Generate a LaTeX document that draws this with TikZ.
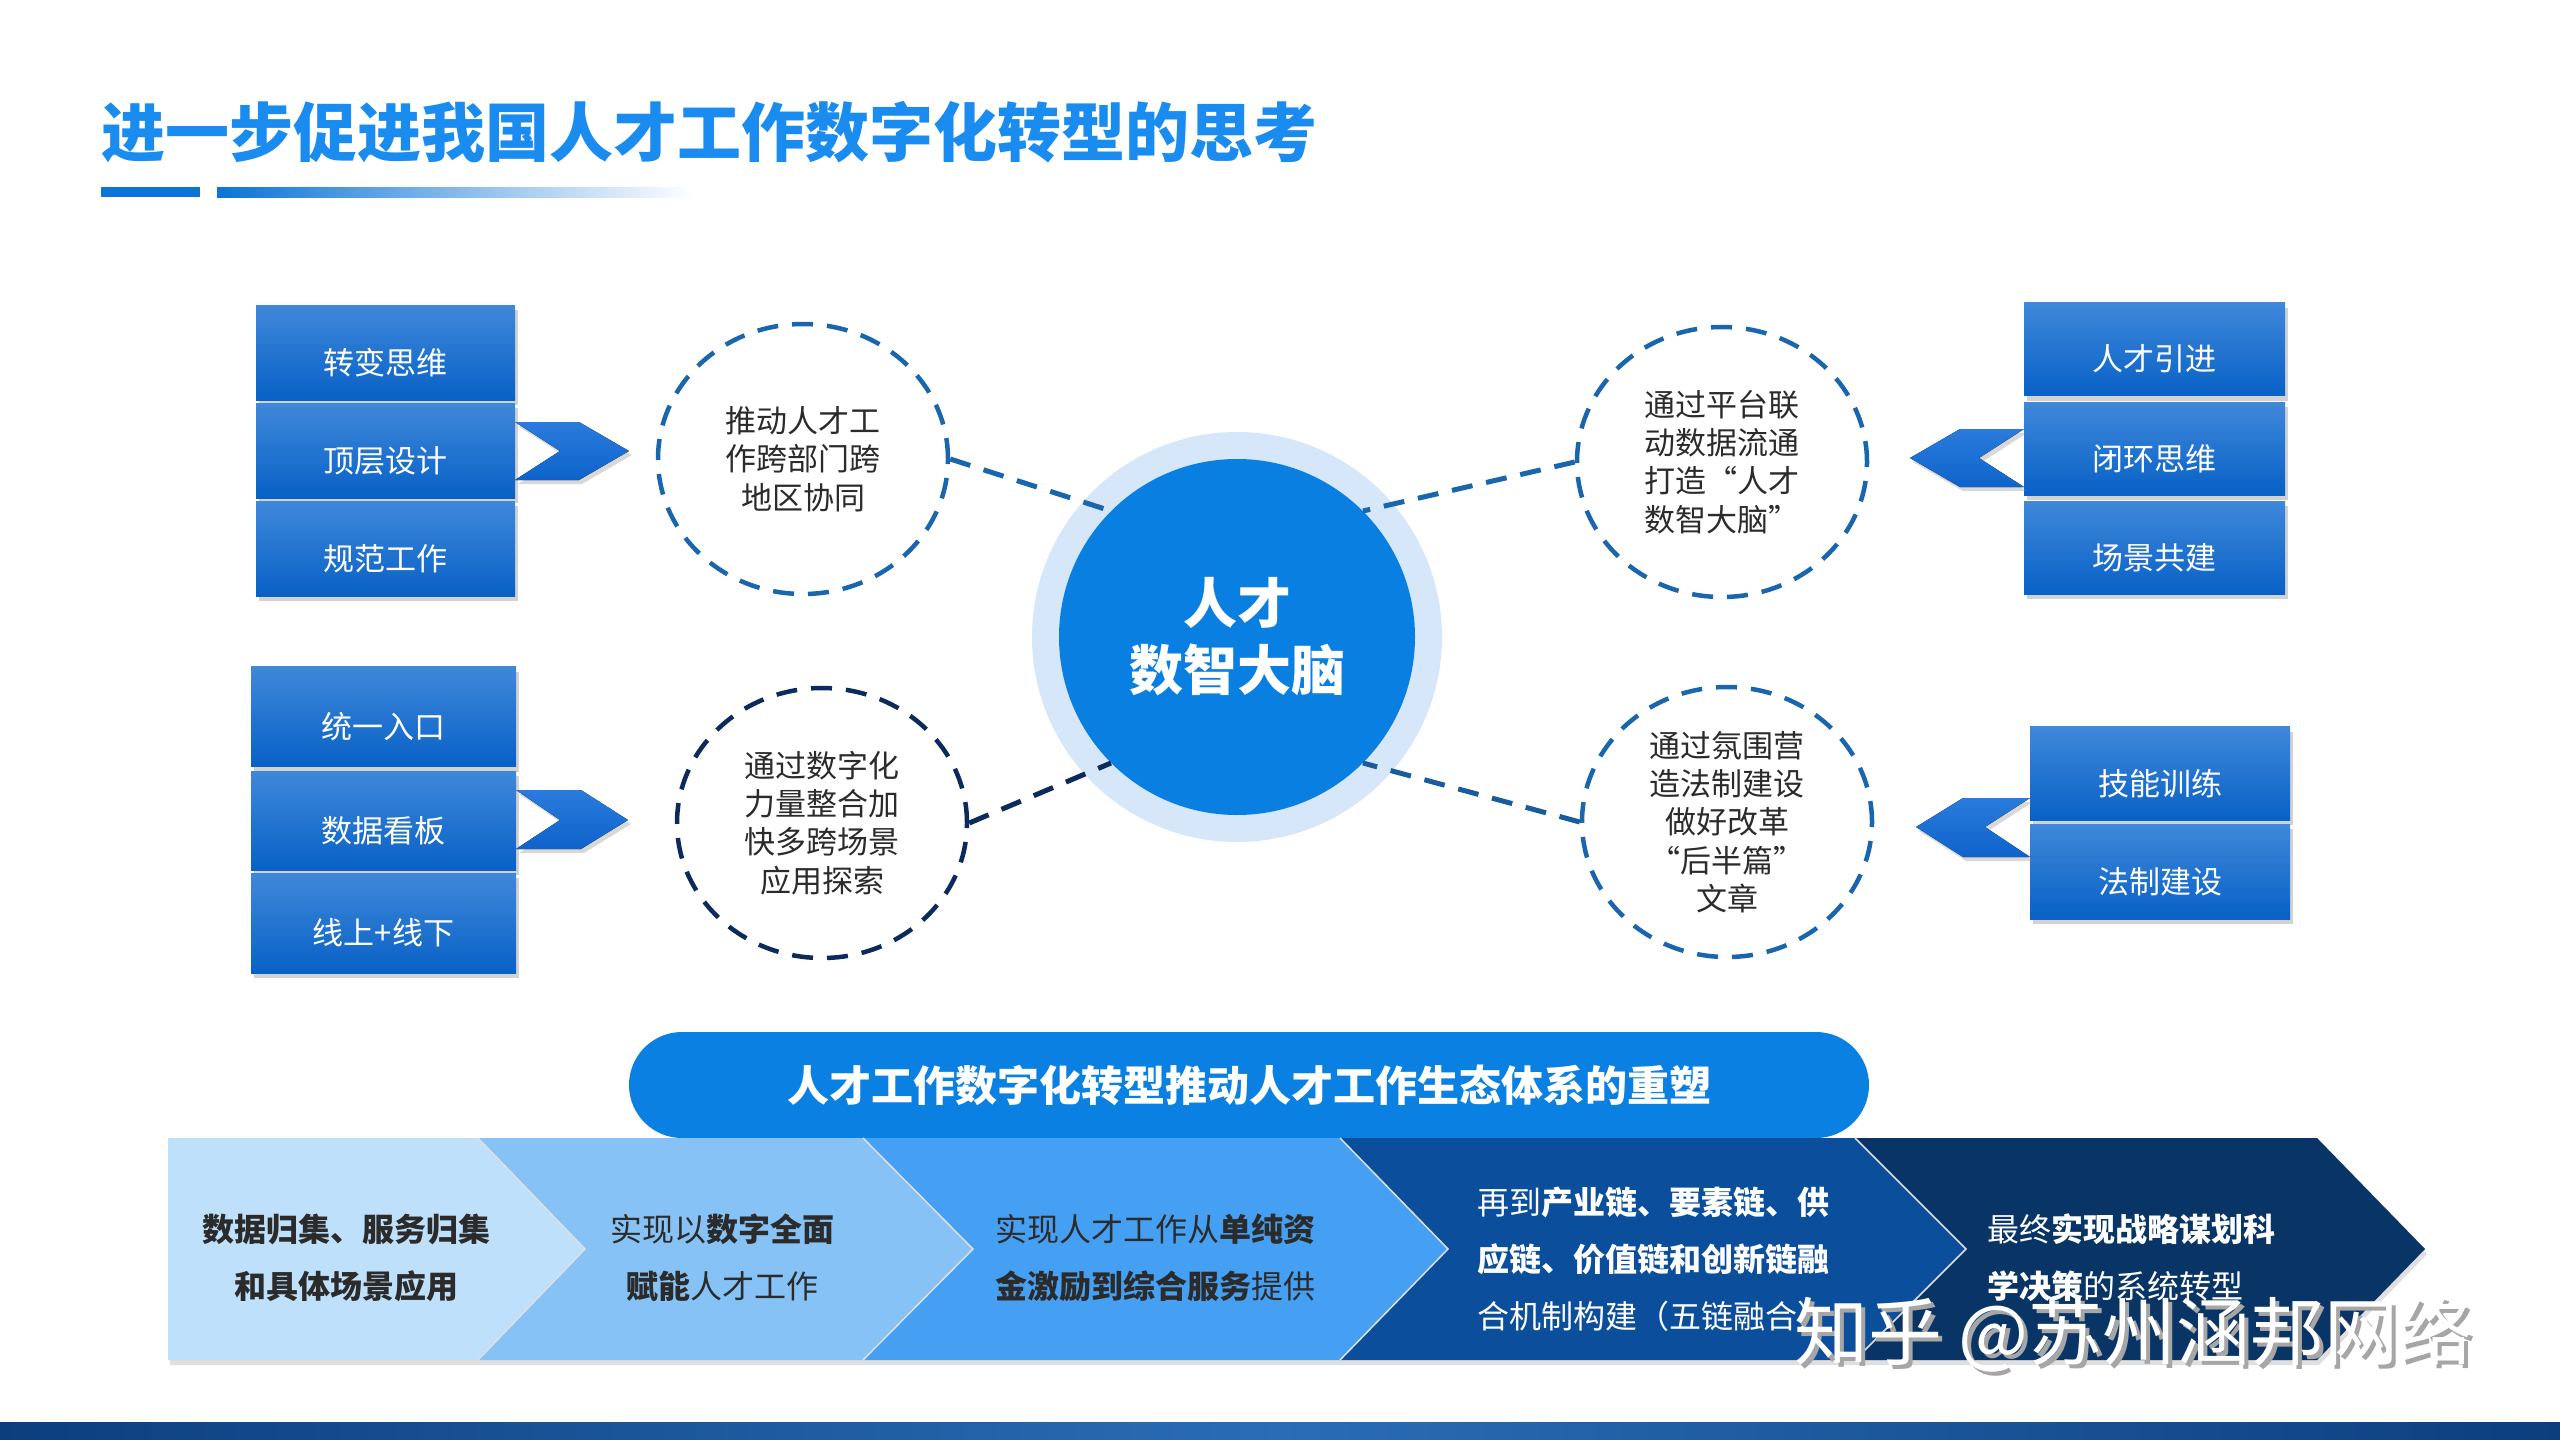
\documentclass[tikz,border=0pt]{standalone}
\usepackage{fontspec}
\setmainfont{Noto Sans CJK SC}
\usetikzlibrary{shapes.geometric,shadows}
\definecolor{titleblue}{HTML}{1A8CF0}
\definecolor{barblue}{HTML}{0B74D6}
\definecolor{boxtop}{HTML}{3F88DA}
\definecolor{boxbot}{HTML}{0861C6}
\definecolor{chevtop}{HTML}{2A7BDC}
\definecolor{chevbot}{HTML}{0E63CB}
\definecolor{ringlight}{HTML}{D5E7F8}
\definecolor{coreblue}{HTML}{0A7FE2}
\definecolor{dashblue}{HTML}{1A66AE}
\definecolor{dashnavy}{HTML}{0D2A5C}
\definecolor{dashmid}{HTML}{1A5A9E}
\definecolor{txtdark}{HTML}{2B2B2B}
\definecolor{bannerblue}{HTML}{0A80E3}
\definecolor{segA}{HTML}{BFE0FB}
\definecolor{segB}{HTML}{86C2F6}
\definecolor{segC}{HTML}{45A0F3}
\definecolor{segD}{HTML}{0A4E9C}
\definecolor{segE}{HTML}{093566}
\definecolor{stripA}{HTML}{0C3E7E}
\definecolor{stripB}{HTML}{2A6DB5}
\begin{document}
\begin{tikzpicture}[x=1pt,y=-1pt,
  bluebox/.style={rectangle, inner sep=0pt, top color=boxtop, bottom color=boxbot,
    text=white, font=\fontsize{31}{36}\selectfont, text height=44pt, text depth=1pt,
    drop shadow={opacity=0.35, shadow xshift=3pt, shadow yshift=-5pt}},
  chevron/.style={top color=chevtop, bottom color=chevbot,
    drop shadow={opacity=0.3, shadow xshift=3pt, shadow yshift=-4pt}},
  thought/.style={ellipse, inner sep=0pt, minimum width=290pt, minimum height=270pt,
    line width=4.5pt, dash pattern=on 21pt off 14pt, text=txtdark,
    font=\fontsize{31}{38.3}\selectfont},
  conn/.style={line width=5pt, dash pattern=on 21pt off 14pt},
  segtext/.style={inner sep=0pt, font=\fontsize{32}{57}\selectfont},
]
\path[use as bounding box, fill=white] (0,0) rectangle (2560,1440);

% title
\node[anchor=west, inner sep=0pt, text=titleblue, font=\bfseries\fontsize{64}{64}\selectfont] (title) at (101,132) {进一步促进我国人才工作数字化转型的思考};
\fill[barblue] (101,187) rectangle (200,197);
\shade[left color=barblue, right color=white] (217,187) rectangle (694,197);

% centre
\node[circle, fill=ringlight, minimum size=410pt, inner sep=0pt] (ring) at (1237,637) {};
\node[circle, fill=coreblue, minimum size=356pt, inner sep=0pt, text=white, align=center,
  font=\bfseries\fontsize{54}{67}\selectfont] (core) at (1237,637) {人才\\数智大脑};

% thought circles
\node[thought, draw=dashblue, align=center] (tl) at (803,459) {推动人才工\\作跨部门跨\\地区协同};
\node[thought, draw=dashblue, align=left] (tr) at (1722,462) {通过平台联\\动数据流通\\打造“人才\\数智大脑”};
\node[thought, draw=dashnavy, align=center] (bl) at (822,823) {通过数字化\\力量整合加\\快多跨场景\\应用探索};
\node[thought, draw=dashblue, align=center] (br) at (1727,822) {通过氛围营\\造法制建设\\做好改革\\“后半篇”\\文章};

% connectors
\draw[conn, dashblue] (tl.east) -- (core.135);
\draw[conn, dashblue] (tr.west) -- (core.45);
\draw[conn, dashnavy] (bl.east) -- (core.225);
\draw[conn, dashmid] (br.west) -- (core.-45);

% left boxes top
\node[bluebox, minimum width=259pt, minimum height=95pt] (b1) at (385.5,352.5) {转变思维};
\node[bluebox, minimum width=259pt, minimum height=95pt] (b2) at (385.5,450.5) {顶层设计};
\node[bluebox, minimum width=259pt, minimum height=95pt] (b3) at (385.5,548.5) {规范工作};
\fill[chevron] (515,422) -- (579,422) -- (629,451) -- (579,480) -- (515,480) -- (560,451) -- cycle;

% right boxes top
\node[bluebox, minimum width=261pt, minimum height=93pt] (r1) at (2154.5,349) {人才引进};
\node[bluebox, minimum width=261pt, minimum height=93pt] (r2) at (2154.5,448.5) {闭环思维};
\node[bluebox, minimum width=261pt, minimum height=93pt] (r3) at (2154.5,547.5) {场景共建};
\fill[chevron] (2024,429) -- (1960,429) -- (1910,458) -- (1960,487) -- (2024,487) -- (1979,458) -- cycle;

% left boxes bottom
\node[bluebox, minimum width=265pt, minimum height=100pt] (c1) at (383.5,716.5) {统一入口};
\node[bluebox, minimum width=265pt, minimum height=99pt] (c2) at (383.5,820.5) {数据看板};
\node[bluebox, minimum width=265pt, minimum height=100pt] (c3) at (383.5,923) {线上+线下};
\fill[chevron] (516,790) -- (581,790) -- (628,820) -- (581,849) -- (516,849) -- (560,820) -- cycle;

% right boxes bottom
\node[bluebox, minimum width=260pt, minimum height=93.5pt] (d1) at (2160,773.5) {技能训练};
\node[bluebox, minimum width=260pt, minimum height=95pt] (d2) at (2160,871.5) {法制建设};
\fill[chevron] (2030,798) -- (1963,798) -- (1916,827) -- (1963,857) -- (2030,857) -- (1985,827) -- cycle;

% banner
\node[rectangle, rounded corners=53pt, fill=bannerblue, minimum width=1240pt, minimum height=106pt,
  inner sep=0pt, text=white, font=\bfseries\fontsize{42}{42}\selectfont] (banner) at (1249,1085)
  {人才工作数字化转型推动人才工作生态体系的重塑};

% chevron band
\fill[segA, drop shadow={opacity=0.25, shadow xshift=2pt, shadow yshift=-5pt}]
  (168,1138) -- (2317,1138) -- (2425,1249) -- (2317,1360) -- (168,1360) -- cycle;
\fill[segA] (168,1138) -- (478,1138) -- (585,1249) -- (478,1360) -- (168,1360) -- cycle;
\fill[segB] (478,1138) -- (863,1138) -- (973,1249) -- (863,1360) -- (478,1360) -- (585,1249) -- cycle;
\fill[segC] (863,1138) -- (1340,1138) -- (1448,1249) -- (1340,1360) -- (863,1360) -- (973,1249) -- cycle;
\fill[segD] (1340,1138) -- (1855,1138) -- (1966,1249) -- (1855,1360) -- (1340,1360) -- (1448,1249) -- cycle;
\fill[segE] (1855,1138) -- (2317,1138) -- (2425,1249) -- (2317,1360) -- (1855,1360) -- (1966,1249) -- cycle;
\draw[white!75!gray, line width=1.5pt] (478,1138) -- (585,1249) -- (478,1360);
\draw[white!75!gray, line width=1.5pt] (863,1138) -- (973,1249) -- (863,1360);
\draw[white!75!gray, line width=1.5pt] (1340,1138) -- (1448,1249) -- (1340,1360);
\draw[white!75!gray, line width=1.5pt] (1855,1138) -- (1966,1249) -- (1855,1360);

\node[segtext, align=center, text=txtdark] (s1) at (346,1258) {\textbf{数据归集、服务归集}\\\textbf{和具体场景应用}};
\node[segtext, align=center, text=txtdark] (s2) at (722,1258) {实现以\textbf{数字全面}\\\textbf{赋能}人才工作};
\node[segtext, align=center, text=txtdark] (s3) at (1155,1258) {实现人才工作从\textbf{单纯资}\\\textbf{金激励到综合服务}提供};
\node[segtext, align=left, anchor=west, text=white] (s4) at (1477,1259) {再到\textbf{产业链、要素链、供}\\\textbf{应链、价值链和创新链融}\\合机制构建（五链融合）};
\node[segtext, align=left, anchor=west, text=white] (s5) at (1987,1258) {最终\textbf{实现战略谋划科}\\\textbf{学决策}的系统转型};

% watermark
\node[anchor=west, inner sep=0pt, text=gray!70, font=\fontsize{74}{74}\selectfont] (wmshadow) at (1798,1338) {知乎 @苏州涵邦网络};
\node[anchor=west, inner sep=0pt, text=white, font=\fontsize{74}{74}\selectfont] (wm) at (1794,1334) {知乎 @苏州涵邦网络};

% bottom strip
\shade[left color=stripA, right color=stripA, middle color=stripB] (0,1422) rectangle (2560,1440);
\end{tikzpicture}
\end{document}
